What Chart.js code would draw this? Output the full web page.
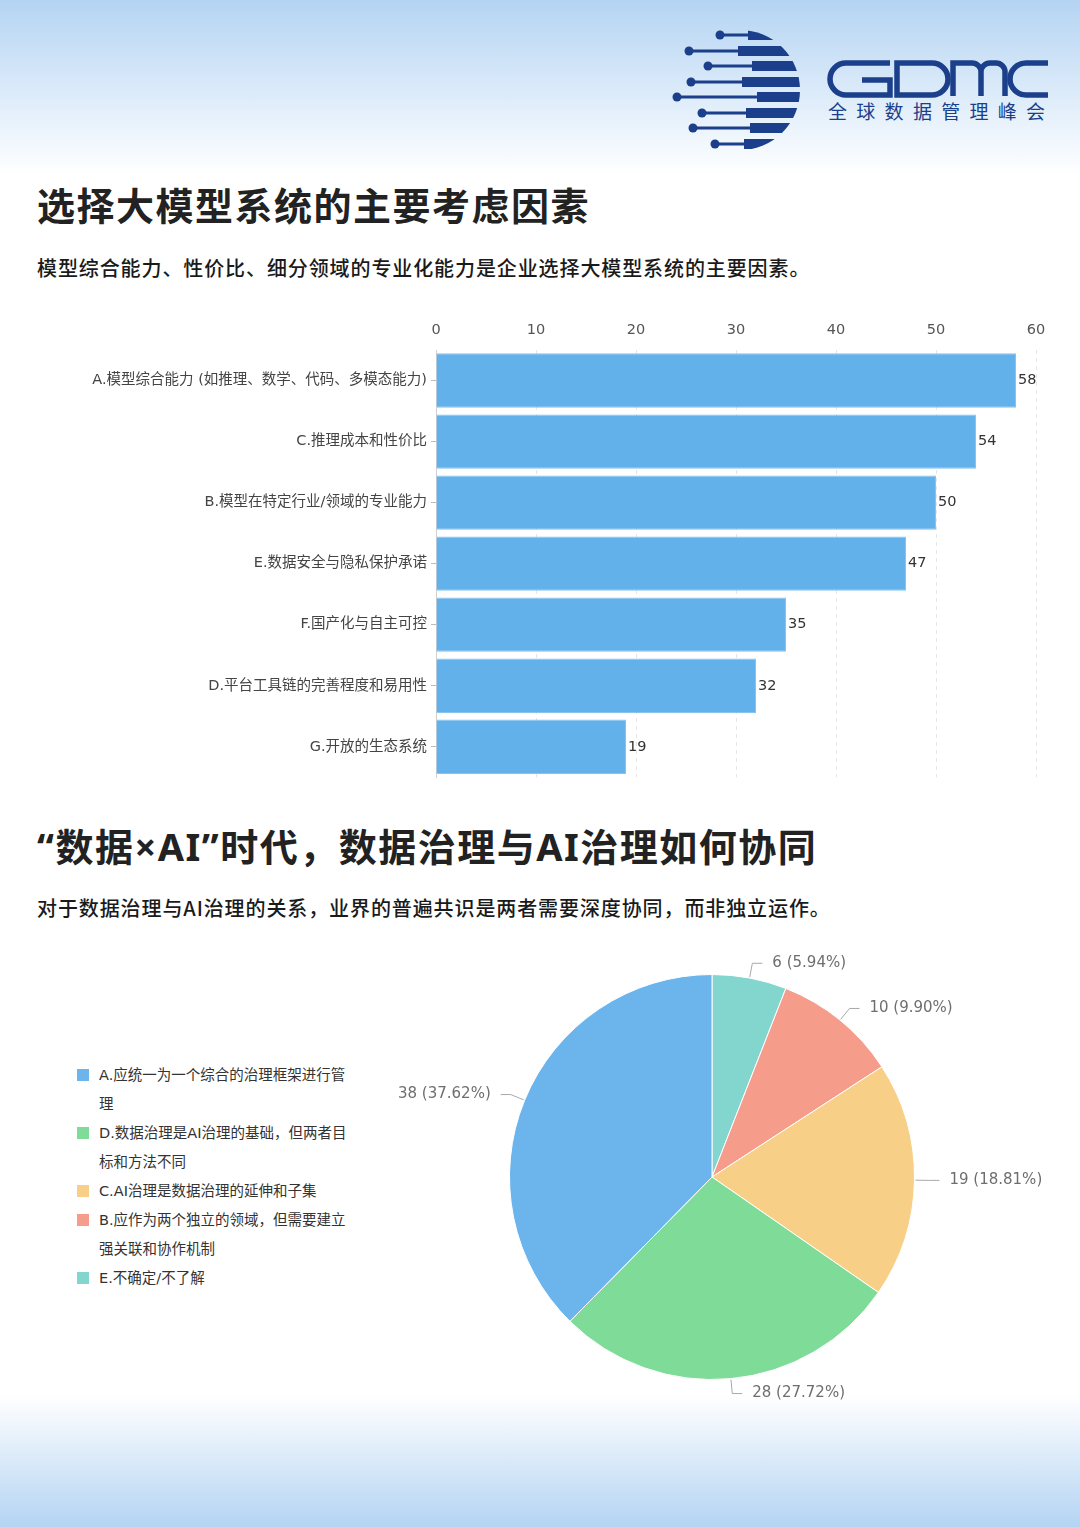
<!DOCTYPE html>
<html>
<head>
<meta charset="utf-8">
<script src="https://cdn.jsdelivr.net/npm/chart.js@4.4.1/dist/chart.umd.min.js"></script>
<style>
  html, body { margin: 0; padding: 0; }
  body {
    width: 1080px; height: 1527px; position: relative; overflow: hidden;
    background: linear-gradient(to bottom, #b4d4f3 0px, #ffffff 175px, #ffffff 1395px, #b4d4f3 1527px);
    font-family: "Noto Sans CJK SC", sans-serif;
  }
  .abs { position: absolute; }
  .title { left: 37px; font-family: "Noto Sans", "Noto Sans CJK SC", sans-serif; font-size: 38px; font-weight: 700; color: #222; letter-spacing: 1.5px; line-height: 38px; white-space: nowrap; }
  .sub { left: 37px; font-size: 20px; font-weight: 500; color: #1a1a1a; letter-spacing: 0.9px; line-height: 22px; white-space: nowrap; }
  #legend { left: 77px; top: 1061px; width: 300px; font-family: "DejaVu Sans", "Noto Sans CJK SC", sans-serif; font-size: 14.5px; color: #333; }
  .li { position: relative; padding-left: 22px; line-height: 29px; width: 252px; }
  .sw { position: absolute; left: 0; top: 8px; width: 12px; height: 12px; }
</style>
</head>
<body>
<svg class="abs" style="left:0;top:0" width="1080" height="170">
  <defs><clipPath id="cc"><circle cx="740" cy="90" r="60"/></clipPath></defs>
  <g id="logo" fill="#1b3f8b" stroke="none"></g>
  <g fill="none" stroke="#1b3f8b" stroke-width="5.5">
    <path d="M 890 63 H 846 A 16 16 0 0 0 846 95 H 890 V 80 H 862"/>
    <path d="M 897 63 H 932 A 16 16 0 0 1 932 95 H 897 Z"/>
    <path d="M 953 96 V 63 H 972 A 9 9 0 0 1 981 72 V 96 M 981 72 A 9 9 0 0 1 990 63 H 996 A 9 9 0 0 1 1005 72 V 96"/>
    <path d="M 1048 63 H 1026 A 16 16 0 0 0 1026 95 H 1048"/>
  </g>
  <text x="828" y="119" font-size="19" fill="#1b3f8b" letter-spacing="9.3" font-family="Noto Sans CJK SC">全球数据管理峰会</text>
</svg>

<div class="abs title" style="top:186px">选择大模型系统的主要考虑因素</div>
<div class="abs sub" style="top:257px">模型综合能力、性价比、细分领域的专业化能力是企业选择大模型系统的主要因素。</div>

<div class="abs" style="left:0;top:300px;width:1080px;height:490px"><canvas id="bar" width="1080" height="490"></canvas></div>

<div class="abs title" style="top:827px">“数据×AI”时代，数据治理与AI治理如何协同</div>
<div class="abs sub" style="top:897px">对于数据治理与AI治理的关系，业界的普遍共识是两者需要深度协同，而非独立运作。</div>

<div id="legend" class="abs"></div>
<div class="abs" style="left:380px;top:940px;width:700px;height:480px"><canvas id="pie" width="700" height="480"></canvas></div>

<script>
// ---------- data ----------
const barCategories = [
  'A.模型综合能力 (如推理、数学、代码、多模态能力)',
  'C.推理成本和性价比',
  'B.模型在特定行业/领域的专业能力',
  'E.数据安全与隐私保护承诺',
  'F.国产化与自主可控',
  'D.平台工具链的完善程度和易用性',
  'G.开放的生态系统'
];
const barValues = [58, 54, 50, 47, 35, 32, 19];
const barAxisMin = 0, barAxisMax = 60, barAxisStep = 10;

// pie, clockwise from 12 o'clock
const pieLabels = [
  'E.不确定/不了解',
  'B.应作为两个独立的领域，但需要建立强关联和协作机制',
  'C.AI治理是数据治理的延伸和子集',
  'D.数据治理是AI治理的基础，但两者目标和方法不同',
  'A.应统一为一个综合的治理框架进行管理'
];
const pieValues = [6, 10, 19, 28, 38];
const pieColors = ['#83d6cd', '#f69c8a', '#f7cf87', '#7edb98', '#6cb4ec'];

// ---------- logo stripes ----------
(function () {
  const g = document.getElementById('logo');
  const ns = 'http://www.w3.org/2000/svg';
  const ys = [35, 51, 66, 82, 97, 113, 128, 144];
  const dots = [720, 689, 708, 691, 677, 702, 693, 715];
  const starts = [748, 738, 752, 742, 757, 746, 750, 744];
  ys.forEach((y, i) => {
    const r = document.createElementNS(ns, 'rect');
    r.setAttribute('x', starts[i]); r.setAttribute('y', y - 5);
    r.setAttribute('width', 80); r.setAttribute('height', 10);
    r.setAttribute('clip-path', 'url(#cc)');
    g.appendChild(r);
    const l = document.createElementNS(ns, 'rect');
    l.setAttribute('x', dots[i]); l.setAttribute('y', y - 1.5);
    l.setAttribute('width', starts[i] - dots[i] + 2); l.setAttribute('height', 3);
    g.appendChild(l);
    const c = document.createElementNS(ns, 'circle');
    c.setAttribute('cx', dots[i]); c.setAttribute('cy', y); c.setAttribute('r', 4.5);
    g.appendChild(c);
  });
})();

Chart.defaults.font.family = '"DejaVu Sans", "Noto Sans CJK SC", sans-serif';
Chart.defaults.animation = false;

// ---------- bar chart ----------
const barValueLabels = {
  id: 'barValueLabels',
  afterDatasetsDraw(chart) {
    const ctx = chart.ctx;
    const meta = chart.getDatasetMeta(0);
    ctx.save();
    ctx.font = '14.5px "DejaVu Sans", sans-serif';
    ctx.fillStyle = '#333';
    ctx.textBaseline = 'middle';
    ctx.textAlign = 'left';
    meta.data.forEach((bar, i) => {
      ctx.fillText(String(chart.data.datasets[0].data[i]), bar.x + 2, bar.y);
    });
    ctx.restore();
  }
};

new Chart(document.getElementById('bar'), {
  type: 'bar',
  data: {
    labels: barCategories,
    datasets: [{
      data: barValues,
      backgroundColor: '#63b1eb',
      borderColor: '#86c3f0',
      borderWidth: 1,
      categoryPercentage: 1,
      barPercentage: 0.89
    }]
  },
  options: {
    indexAxis: 'y',
    responsive: false,
    layout: { padding: { left: 0, right: 44, top: 0, bottom: 12 } },
    plugins: { legend: { display: false }, tooltip: { enabled: false } },
    scales: {
      x: {
        position: 'top',
        min: barAxisMin, max: barAxisMax,
        ticks: { stepSize: barAxisStep, color: '#555', font: { size: 14.5 }, padding: 11 },
        grid: { color: '#e6e6e6', drawTicks: false },
        border: { display: false, dash: [4, 4] },
        afterFit(s) { s.height = 50; }
      },
      y: {
        ticks: { color: '#444', font: { size: 14.5 }, padding: 4 },
        grid: { offset: false, drawOnChartArea: false, tickLength: 5, color: '#bbb' },
        border: { display: true, color: '#d0d0d0' },
        afterFit(s) { s.width = 436; }
      }
    }
  },
  plugins: [barValueLabels]
});

// ---------- pie chart ----------
const pieTotal = pieValues.reduce((a, b) => a + b, 0);
const pieOutLabels = {
  id: 'pieOutLabels',
  afterDatasetsDraw(chart) {
    const ctx = chart.ctx;
    const meta = chart.getDatasetMeta(0);
    ctx.save();
    ctx.font = '15px "DejaVu Sans", sans-serif';
    ctx.textBaseline = 'middle';
    meta.data.forEach((arc, i) => {
      const p = arc.getProps(['x', 'y', 'startAngle', 'endAngle', 'outerRadius'], true);
      const mid = (p.startAngle + p.endAngle) / 2;
      const c = Math.cos(mid), s = Math.sin(mid);
      const x1 = p.x + c * (p.outerRadius + 1), y1 = p.y + s * (p.outerRadius + 1);
      const x2 = p.x + c * (p.outerRadius + 15), y2 = p.y + s * (p.outerRadius + 15);
      const dir = c >= 0 ? 1 : -1;
      const x3 = x2 + dir * 10;
      ctx.strokeStyle = '#a8a8a8';
      ctx.lineWidth = 1;
      ctx.beginPath();
      ctx.moveTo(x1, y1); ctx.lineTo(x2, y2); ctx.lineTo(x3, y2);
      ctx.stroke();
      const v = pieValues[i];
      const txt = v + ' (' + (v / pieTotal * 100).toFixed(2) + '%)';
      ctx.fillStyle = '#6e6e6e';
      ctx.textAlign = dir > 0 ? 'left' : 'right';
      ctx.fillText(txt, x3 + dir * 10, y2);
    });
    ctx.restore();
  }
};

new Chart(document.getElementById('pie'), {
  type: 'pie',
  data: {
    labels: pieLabels,
    datasets: [{ data: pieValues, backgroundColor: pieColors, borderColor: '#ffffff', borderWidth: 1 }]
  },
  options: {
    responsive: false,
    layout: { padding: { left: 129, right: 165, top: 34, bottom: 40 } },
    plugins: { legend: { display: false }, tooltip: { enabled: false } }
  },
  plugins: [pieOutLabels]
});

// ---------- HTML legend (reverse order) ----------
(function () {
  const lg = document.getElementById('legend');
  for (let i = pieLabels.length - 1; i >= 0; i--) {
    const d = document.createElement('div');
    d.className = 'li';
    const sw = document.createElement('span');
    sw.className = 'sw';
    sw.style.background = pieColors[i];
    d.appendChild(sw);
    d.appendChild(document.createTextNode(pieLabels[i]));
    lg.appendChild(d);
  }
})();
</script>
</body>
</html>
